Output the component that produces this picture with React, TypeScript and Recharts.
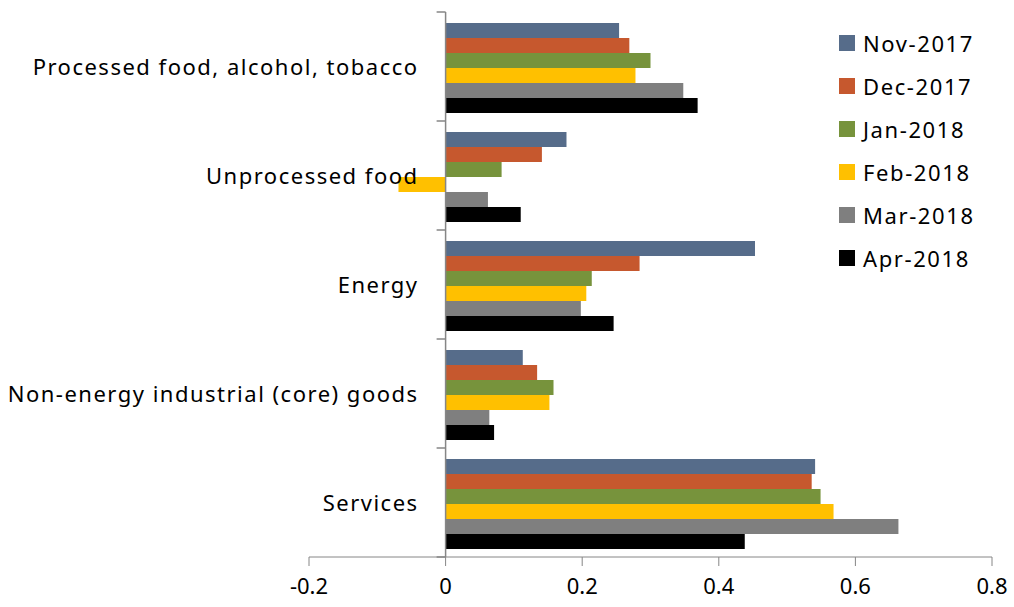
import React from 'react';
import { BarChart, Bar, XAxis, YAxis, ReferenceLine } from 'recharts';

// categories, top to bottom
const CATEGORIES = [
  'Processed food, alcohol, tobacco',
  'Unprocessed food',
  'Energy',
  'Non-energy industrial (core) goods',
  'Services',
];

const NOV_2017 = [0.254, 0.177, 0.453, 0.113, 0.541];
const DEC_2017 = [0.269, 0.141, 0.284, 0.134, 0.536];
const JAN_2018 = [0.300, 0.082, 0.214, 0.158, 0.549];
const FEB_2018 = [0.278, -0.069, 0.206, 0.152, 0.568];
const MAR_2018 = [0.348, 0.062, 0.198, 0.064, 0.663];
const APR_2018 = [0.369, 0.110, 0.246, 0.071, 0.438];

const X_TICKS = [-0.2, 0, 0.2, 0.4, 0.6, 0.8];

const SERIES = [
  { key: 'Nov-2017', values: NOV_2017, color: '#566C8A' },
  { key: 'Dec-2017', values: DEC_2017, color: '#C6582E' },
  { key: 'Jan-2018', values: JAN_2018, color: '#77933C' },
  { key: 'Feb-2018', values: FEB_2018, color: '#FFC000' },
  { key: 'Mar-2018', values: MAR_2018, color: '#7F7F7F' },
  { key: 'Apr-2018', values: APR_2018, color: '#000000' },
];

const data = CATEGORIES.map((name, i) => {
  const row: Record<string, string | number> = { name };
  SERIES.forEach(s => { row[s.key] = s.values[i]; });
  return row;
});

// Chart geometry
const W = 1014;
const H = 607;
const MARGIN = { top: 12, right: 22, left: 0, bottom: 10 };
const Y_AXIS_W = 309;
const X_AXIS_H = 40;
const PLOT_W = W - MARGIN.left - MARGIN.right - Y_AXIS_W;
const PLOT_H = H - MARGIN.top - MARGIN.bottom - X_AXIS_H;
const X_MIN = X_TICKS[0];
const X_MAX = X_TICKS[X_TICKS.length - 1];
const ZERO_X = MARGIN.left + Y_AXIS_W + ((0 - X_MIN) / (X_MAX - X_MIN)) * PLOT_W;
const BAND = PLOT_H / CATEGORIES.length;

const FONT = '"Noto Sans", "Open Sans", sans-serif';
const AXIS_GREY = '#868686';

// category labels sit next to the zero line, like Excel does
const CategoryTick = (props: any) => {
  const { y, payload, index } = props;
  return (
    <g>
      <line x1={ZERO_X - 9} x2={ZERO_X} y1={y - BAND / 2} y2={y - BAND / 2} stroke={AXIS_GREY} strokeWidth={1.5} />
      {index === CATEGORIES.length - 1 && (
        <line x1={ZERO_X - 9} x2={ZERO_X} y1={y + BAND / 2} y2={y + BAND / 2} stroke={AXIS_GREY} strokeWidth={1.5} />
      )}
      <text x={ZERO_X - 27} y={y} dy={8} textAnchor="end" fill="#000" fontSize={22} letterSpacing={1.5} fontFamily={FONT}>
        {payload.value}
      </text>
    </g>
  );
};

const LegendBox = () => (
  <div style={{ fontFamily: FONT, fontSize: 22, letterSpacing: 1.6, color: '#000' }}>
    {SERIES.map(s => (
      <div key={s.key} style={{ display: 'flex', alignItems: 'center', height: 43 }}>
        <span style={{ width: 16, height: 16, background: s.color, marginRight: 8, display: 'inline-block' }} />
        <span>{s.key}</span>
      </div>
    ))}
  </div>
);

export default function App() {
  return (
    <div style={{ position: 'absolute', left: 0, top: 0, width: W, height: H, background: '#fff' }}>
      <BarChart
        width={W}
        height={H}
        data={data}
        layout="vertical"
        margin={MARGIN}
        barCategoryGap="10%"
        barGap={0}
      >
        <XAxis
          type="number"
          domain={[X_MIN, X_MAX]}
          ticks={X_TICKS}
          height={X_AXIS_H}
          stroke={AXIS_GREY}
          tickSize={9}
          tick={{ fill: '#000', fontSize: 22, fontFamily: FONT }}
          tickMargin={12}
          allowDataOverflow
        />
        <YAxis
          type="category"
          dataKey="name"
          width={Y_AXIS_W}
          axisLine={false}
          tickLine={false}
          tick={<CategoryTick />}
          interval={0}
        />
        {SERIES.map(s => (
          <Bar key={s.key} dataKey={s.key} fill={s.color} isAnimationActive={false} />
        ))}
        <ReferenceLine x={0} stroke={AXIS_GREY} strokeWidth={1.5} />
      </BarChart>
      <div style={{ position: 'absolute', left: 839, top: 21 }}>
        <LegendBox />
      </div>
    </div>
  );
}
